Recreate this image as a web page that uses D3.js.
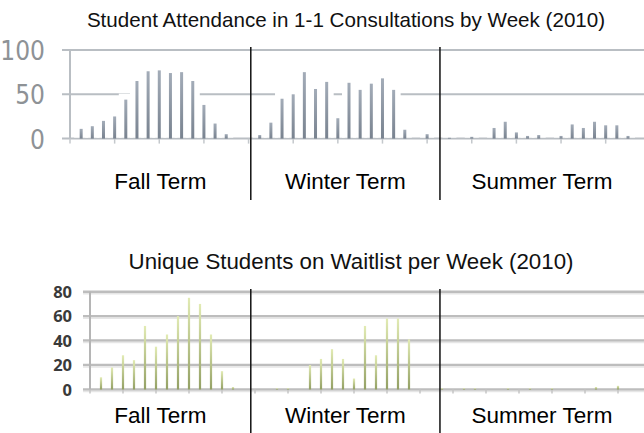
<!DOCTYPE html>
<html><head><meta charset="utf-8">
<script src="https://cdn.jsdelivr.net/npm/d3@7"></script>
<style>
html,body{margin:0;padding:0;background:#fff;}
svg{display:block;}
</style></head>
<body>
<svg id="c" width="644" height="433"></svg>
<script>
// ---------- data ----------
const weeks = d3.range(1, 53);
const attendance = [11,14,20,25,44,65,76,77,74,75,65,38,17,5,0,0,
                    4,18,45,50,75,56,64,23,63,55,62,68,55,10,0,5,
                    0,1,0,2,0,12,19,7,3,4,0,3,16,12,19,15,15,3,0,0];
const waitlist   = [10,18,28,24,52,35,45,60,75,70,45,15,2,0,0,0,
                    1,1,0,20,25,33,25,9,52,28,58,58,41,0,0,1,
                    0,1,1,0,0,1,0,1,0,1,0,0,0,2,0,3,0,0,0,0];
const topTicks = [0, 50, 100];
const bottomTicks = [0, 20, 40, 60, 80];
const terms = ["Fall Term", "Winter Term", "Summer Term"];
const termBreaks = [16.2, 33.15];
const titleTop = "Student Attendance in 1-1 Consultations by Week (2010)";
const titleBottom = "Unique Students on Waitlist per Week (2010)";

// ---------- setup ----------
const W = 644, H = 433;
const svg = d3.select("#c");
const defs = svg.append("defs");
const g1 = defs.append("linearGradient").attr("id","gTop").attr("x1",0).attr("y1",0).attr("x2",0).attr("y2",1);
g1.append("stop").attr("offset","0%").attr("stop-color","#a3acb8");
g1.append("stop").attr("offset","100%").attr("stop-color","#78828f");
const g2 = defs.append("linearGradient").attr("id","gBot").attr("x1",0).attr("y1",0).attr("x2",0).attr("y2",1);
g2.append("stop").attr("offset","0%").attr("stop-color","#e2ebb4");
g2.append("stop").attr("offset","100%").attr("stop-color","#93a064");

// ---------- top chart ----------
const xT = d3.scaleLinear().domain([0, 52]).range([70, 70 + 52 * 11.16]);
const yT = d3.scaleLinear().domain([0, 100]).range([138.6, 50]);

svg.append("text").attr("x", 346).attr("y", 27).attr("text-anchor","middle")
  .attr("font-family","Liberation Sans, Arial, sans-serif").attr("font-size",20.6).attr("fill","#111")
  .text(titleTop);

const topG = svg.append("g");
topG.selectAll("line.grid").data(topTicks).join("line").attr("class","grid")
  .attr("x1", 62).attr("x2", W).attr("y1", d => yT(d)).attr("y2", d => yT(d))
  .attr("stroke", "#b9bec3").attr("stroke-width", 2);
topG.append("line").attr("x1", xT(0)).attr("x2", xT(0)).attr("y1", yT(100)).attr("y2", yT(0))
  .attr("stroke","#b9bec3").attr("stroke-width",2);
topG.selectAll("line.tk").data(d3.range(0, 53, 4)).join("line").attr("class","tk")
  .attr("x1", d => xT(d)).attr("x2", d => xT(d)).attr("y1", yT(0)).attr("y2", yT(0) + 5)
  .attr("stroke","#c4c8cc").attr("stroke-width",1.5);
topG.selectAll("rect.glow").data(weeks).join("rect").attr("class","glow")
  .attr("x", d => xT(d) - 7).attr("width", 14)
  .attr("y", (d,i) => yT(attendance[i]) - 6)
  .attr("height", (d,i) => attendance[i] > 0 ? yT(0) - yT(attendance[i]) + 5 : 0)
  .attr("fill","#fff");
topG.selectAll("rect.bar").data(weeks).join("rect").attr("class","bar")
  .attr("x", d => xT(d) - 1.5).attr("width", 3)
  .attr("y", (d,i) => yT(attendance[i]))
  .attr("height", (d,i) => yT(0) - yT(attendance[i]))
  .attr("fill","url(#gTop)");
topG.selectAll("text.yl").data(topTicks).join("text").attr("class","yl")
  .attr("x", 45).attr("y", d => yT(d) + 10).attr("text-anchor","end")
  .attr("font-family","Liberation Sans Narrow, DejaVu Sans Condensed, sans-serif")
  .attr("font-size", 26).attr("fill","#8e9296")
  .text(d => d);

// ---------- bottom chart ----------
const xB = d3.scaleLinear().domain([0, 52]).range([90, 90 + 52 * 11.0]);
const yB = d3.scaleLinear().domain([0, 80]).range([389.5, 291.7]);

svg.append("text").attr("x", 351).attr("y", 269).attr("text-anchor","middle")
  .attr("font-family","Liberation Sans, Arial, sans-serif").attr("font-size",22.3).attr("fill","#111")
  .text(titleBottom);

const botG = svg.append("g");
botG.selectAll("line.grid").data(bottomTicks).join("line").attr("class","grid")
  .attr("x1", 83).attr("x2", W).attr("y1", d => yB(d)).attr("y2", d => yB(d))
  .attr("stroke", "#bdbdbd").attr("stroke-width", 2.5);
botG.selectAll("line.gridsh").data(bottomTicks).join("line").attr("class","gridsh")
  .attr("x1", 83).attr("x2", W).attr("y1", d => yB(d) + 2).attr("y2", d => yB(d) + 2)
  .attr("stroke", "#e6e6e6").attr("stroke-width", 1.5);
botG.append("line").attr("x1", xB(0)).attr("x2", xB(0)).attr("y1", yB(80)).attr("y2", yB(0))
  .attr("stroke","#b5b5b5").attr("stroke-width",2);
botG.selectAll("line.tk").data(d3.range(0, 53, 3)).join("line").attr("class","tk")
  .attr("x1", d => xB(d)).attr("x2", d => xB(d)).attr("y1", yB(0)).attr("y2", yB(0) + 4)
  .attr("stroke","#c4c4c4").attr("stroke-width",1.5);
botG.selectAll("rect.bar").data(weeks).join("rect").attr("class","bar")
  .attr("x", d => xB(d) - 1.1).attr("width", 2.2)
  .attr("y", (d,i) => yB(waitlist[i]))
  .attr("height", (d,i) => yB(0) - yB(waitlist[i]))
  .attr("fill","url(#gBot)");
botG.selectAll("text.yl").data(bottomTicks).join("text").attr("class","yl")
  .attr("x", 72).attr("y", d => yB(d) + 6).attr("text-anchor","end")
  .attr("font-family","Open Sans, Liberation Sans, sans-serif").attr("font-weight","bold")
  .attr("font-size", 16.5).attr("fill","#3a3a3a")
  .text(d => d);

// ---------- term separators & labels ----------
const rightEdge = xT.invert(W);
const edges = [0, ...termBreaks, rightEdge];
[[47, 200, 189], [289, H, 423]].forEach(([y1, y2, ly]) => {
  svg.selectAll(null).data(termBreaks).join("line")
    .attr("x1", d => xT(d)).attr("x2", d => xT(d)).attr("y1", y1).attr("y2", y2)
    .attr("stroke","#111").attr("stroke-width",1.5);
  svg.selectAll(null).data(terms).join("text")
    .attr("x", (d,i) => (xT(edges[i]) + xT(edges[i+1])) / 2)
    .attr("y", ly).attr("text-anchor","middle")
    .attr("font-family","Liberation Sans, Arial, sans-serif").attr("font-size",22.5).attr("fill","#000")
    .text(d => d);
});
</script>
</body></html>
